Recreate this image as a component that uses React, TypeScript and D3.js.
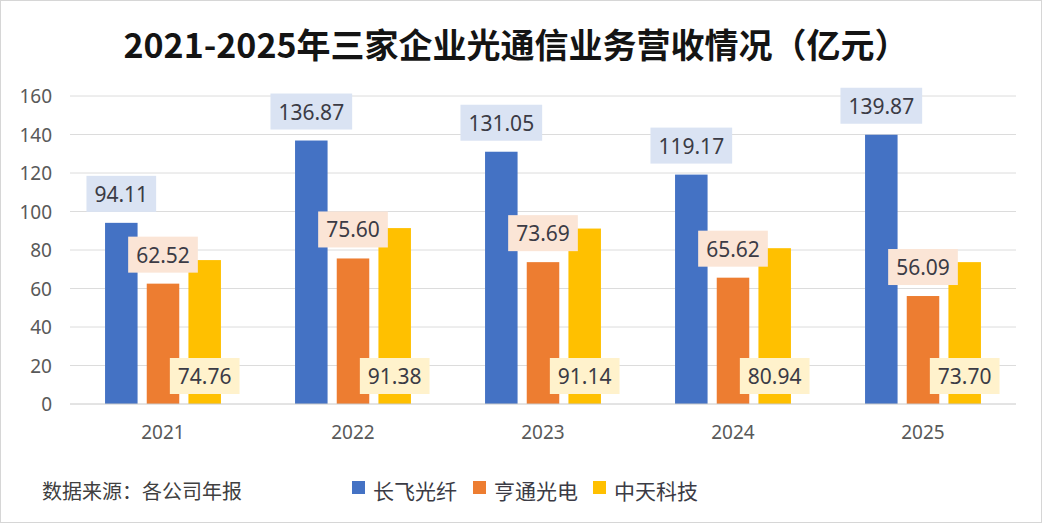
import React, { useRef, useEffect } from 'react';
import * as d3 from 'd3';

// 年份与三家企业营收（亿元）
const years = ['2021', '2022', '2023', '2024', '2025'];
const changfei = [94.11, 136.87, 131.05, 119.17, 139.87];
const hengtong = [62.52, 75.6, 73.69, 65.62, 56.09];
const zhongtian = [74.76, 91.38, 91.14, 80.94, 73.7];
const seriesNames = ['长飞光纤', '亨通光电', '中天科技'];
const yTicks = [0, 20, 40, 60, 80, 100, 120, 140, 160];

const colors = ['#4472c4', '#ed7d31', '#ffc000'];
const labelFills = ['#dae3f3', '#fbe5d6', '#fff2cc'];

const width = 1044;
const height = 524;
const margin = { top: 96, right: 26, bottom: 120, left: 68 };
const numFont = '"Noto Sans", "Noto Sans CJK SC", sans-serif';
const cjkFont = '"Noto Sans CJK SC", "Noto Sans", sans-serif';

const App: React.FC = () => {
  const svgRef = useRef<SVGSVGElement>(null);

  useEffect(() => {
    if (!svgRef.current) return;
    const svg = d3.select(svgRef.current);
    svg.selectAll('*').remove();

    const values = [changfei, hengtong, zhongtian];

    const x0 = d3.scaleBand<string>()
      .domain(years)
      .range([margin.left, width - margin.right])
      .paddingInner(0.39)
      .paddingOuter(0.195);

    const x1 = d3.scaleBand<number>()
      .domain([0, 1, 2])
      .range([0, x0.bandwidth()])
      .paddingInner(0.22);

    const y = d3.scaleLinear()
      .domain([0, 160])
      .range([height - margin.bottom, margin.top]);

    // 边框
    svg.append('rect')
      .attr('x', 0.5).attr('y', 0.5)
      .attr('width', width - 3).attr('height', height - 2)
      .attr('fill', '#fff')
      .attr('stroke', '#d6d6d6');

    // 标题
    svg.append('text')
      .attr('x', 516)
      .attr('y', 43)
      .attr('text-anchor', 'middle')
      .attr('dominant-baseline', 'central')
      .attr('font-family', cjkFont)
      .attr('font-weight', 'bold')
      .attr('font-size', 34)
      .attr('fill', '#141414')
      .text('2021-2025年三家企业光通信业务营收情况（亿元）');

    // 网格线
    const x2 = width - margin.right;
    svg.append('g')
      .selectAll('line')
      .data(yTicks.slice(1))
      .join('line')
      .attr('x1', margin.left + 2)
      .attr('x2', x2 - 2)
      .attr('y1', d => y(d))
      .attr('y2', d => y(d))
      .attr('stroke', '#dcdcdc')
      .attr('stroke-width', 1);

    // y 轴标签
    svg.append('g')
      .selectAll('text')
      .data(yTicks)
      .join('text')
      .attr('x', 52)
      .attr('y', d => y(d))
      .attr('text-anchor', 'end')
      .attr('dominant-baseline', 'central')
      .attr('font-family', numFont)
      .attr('font-size', 19)
      .attr('fill', '#595959')
      .text(d => d);

    // 柱子
    const groups = svg.append('g')
      .selectAll('g')
      .data(years)
      .join('g')
      .attr('transform', d => `translate(${x0(d)},0)`);

    groups.selectAll('rect')
      .data((_, i) => values.map((s, k) => ({ k, v: s[i] })))
      .join('rect')
      .attr('x', d => x1(d.k)!)
      .attr('y', d => y(d.v))
      .attr('width', x1.bandwidth())
      .attr('height', d => y(0) - y(d.v))
      .attr('fill', d => colors[d.k]);

    // x 轴线
    svg.append('line')
      .attr('x1', margin.left + 2)
      .attr('x2', x2 - 2)
      .attr('y1', y(0))
      .attr('y2', y(0))
      .attr('stroke', '#c8c8c8');

    // x 轴标签
    svg.append('g')
      .selectAll('text')
      .data(years)
      .join('text')
      .attr('x', d => x0(d)! + x0.bandwidth() / 2)
      .attr('y', y(0) + 28)
      .attr('text-anchor', 'middle')
      .attr('dominant-baseline', 'central')
      .attr('font-family', numFont)
      .attr('font-size', 19)
      .attr('fill', '#595959')
      .text(d => d);

    // 数据标签
    const boxH = 36;
    years.forEach((yr, i) => {
      values.forEach((s, k) => {
        const v = s[i];
        const cx = x0(yr)! + x1(k)! + x1.bandwidth() / 2;
        const bottom = k === 2 ? y(0) - 10 : y(v) - 11;
        const cy = bottom - boxH / 2;
        const g = svg.append('g');
        const rect = g.append('rect');
        const t = g.append('text')
          .attr('x', cx)
          .attr('y', cy)
          .attr('text-anchor', 'middle')
          .attr('dominant-baseline', 'central')
          .attr('font-family', numFont)
          .attr('font-size', 21)
          .attr('fill', '#3b3b45')
          .text(v.toFixed(2));
        const w = (t.node() as SVGTextElement).getComputedTextLength() + 16;
        rect.attr('x', cx - w / 2)
          .attr('y', bottom - boxH)
          .attr('width', w)
          .attr('height', boxH)
          .attr('fill', labelFills[k]);
      });
    });

    // 数据来源
    svg.append('text')
      .attr('x', 42)
      .attr('y', 490)
      .attr('dominant-baseline', 'central')
      .attr('font-family', cjkFont)
      .attr('font-size', 20)
      .attr('fill', '#404040')
      .text('数据来源：各公司年报');

    // 图例
    const legendX = [352, 473, 593];
    seriesNames.forEach((name, k) => {
      svg.append('rect')
        .attr('x', legendX[k])
        .attr('y', 481)
        .attr('width', 13)
        .attr('height', 13)
        .attr('fill', colors[k]);
      svg.append('text')
        .attr('x', legendX[k] + 21)
        .attr('y', 490)
        .attr('dominant-baseline', 'central')
        .attr('font-family', cjkFont)
        .attr('font-size', 21)
        .attr('fill', '#3b3b45')
        .text(name);
    });
  }, []);

  return (
    <svg
      ref={svgRef}
      width={width}
      height={height}
      style={{ position: 'absolute', left: 0, top: 0, display: 'block' }}
    />
  );
};

export default App;
